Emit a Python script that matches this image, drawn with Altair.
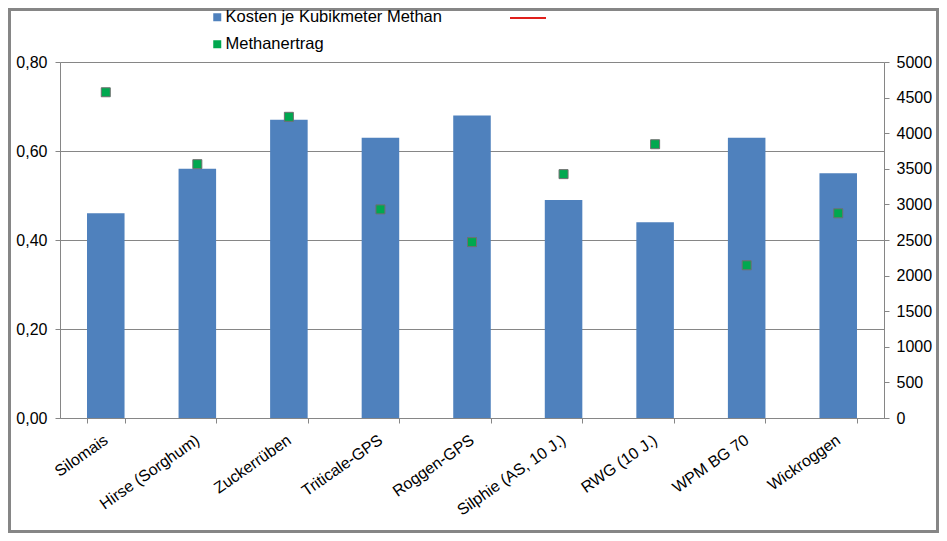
import altair as alt
import pandas as pd

categories = ["Silomais", "Hirse (Sorghum)", "Zuckerrüben", "Triticale-GPS", "Roggen-GPS",
              "Silphie (AS, 10 J.)", "RWG (10 J.)", "WPM BG 70", "Wickroggen"]
kosten = [0.46, 0.56, 0.67, 0.63, 0.68, 0.49, 0.44, 0.63, 0.55]
methanertrag = [4575, 3565, 4230, 2930, 2470, 3425, 3845, 2145, 2875]
bar_series = "Kosten je Kubikmeter Methan"
point_series = "Methanertrag"
line_series = " "
left_ticks = [0, 0.2, 0.4, 0.6, 0.8]
right_ticks = [0, 500, 1000, 1500, 2000, 2500, 3000, 3500, 4000, 4500, 5000]

GRAY = "#868686"
FONT = "Liberation Sans"

df = pd.DataFrame({
    "Kultur": categories,
    "Kosten": kosten,
    "Methanertrag": methanertrag,
    "bar_s": [bar_series] * len(categories),
    "pt_s": [point_series] * len(categories),
    "line_s": [line_series] * len(categories),
    "leer": [None] * len(categories),
})

x_enc = alt.X(
    "Kultur:N", sort=categories, title=None,
    scale=alt.Scale(paddingInner=0.59, paddingOuter=0.295),
    axis=alt.Axis(labelAngle=-35, labelAlign="right", labelBaseline="middle",
                  tickBand="extent", tickSize=5, tickColor=GRAY,
                  domainColor=GRAY, labelFontSize=16, labelColor="black",
                  labelPadding=15, grid=False, labelFont=FONT, labelLimit=300),
)

legend_common = dict(orient="none", title=None, padding=0, labelFontSize=16.5,
                     labelFont=FONT, labelColor="black", labelOffset=0, labelLimit=400)

bars = alt.Chart(df).mark_bar().encode(
    x=x_enc,
    y=alt.Y("Kosten:Q", title=None,
            scale=alt.Scale(domain=[0, 0.8], nice=False),
            axis=alt.Axis(values=left_ticks,
                          labelExpr="replace(format(datum.value, '.2f'), '.', ',')",
                          grid=True, gridColor=GRAY, gridWidth=1,
                          domainColor=GRAY, tickColor=GRAY, tickSize=5,
                          labelPadding=8, labelFontSize=16, labelColor="black",
                          labelFont=FONT)),
    color=alt.Color("bar_s:N",
                    scale=alt.Scale(domain=[bar_series], range=["#4F81BD"]),
                    legend=alt.Legend(legendX=149, legendY=-53, symbolType="square",
                                      symbolSize=64, symbolStrokeWidth=0, **legend_common)),
)

points = alt.Chart(df).mark_point(shape="square", filled=True, size=81,
                                  stroke="#6f6f6f", strokeWidth=1, opacity=1).encode(
    x=x_enc,
    y=alt.Y("Methanertrag:Q", title=None,
            scale=alt.Scale(domain=[0, 5000], nice=False),
            axis=alt.Axis(orient="right", values=right_ticks, format="d", grid=False,
                          domainColor=GRAY, tickColor=GRAY, tickSize=5,
                          labelPadding=7, labelFontSize=16, labelColor="black",
                          labelFont=FONT)),
    fill=alt.Fill("pt_s:N",
                  scale=alt.Scale(domain=[point_series], range=["#00A84F"]),
                  legend=alt.Legend(legendX=149, legendY=-26, symbolType="square",
                                    symbolSize=64, symbolStrokeWidth=0,
                                    symbolFillColor="#2E9E48", **legend_common)),
)

line = alt.Chart(df).mark_line(strokeWidth=2).encode(
    x=x_enc,
    y=alt.Y("leer:Q", title=None, scale=alt.Scale(domain=[0, 1]), axis=None),
    stroke=alt.Stroke("line_s:N",
                      scale=alt.Scale(domain=[line_series], range=["#E0201C"]),
                      legend=alt.Legend(legendX=449, legendY=-63, symbolType="stroke",
                                        symbolSize=1296, symbolStrokeWidth=2,
                                        **legend_common)),
)

frame = alt.Chart(pd.DataFrame({"f": [0]})).mark_rect(
    fill="transparent", stroke=GRAY, strokeWidth=3
).encode(
    x=alt.value(-50.5), x2=alt.value(877.5), y=alt.value(-52.5), y2=alt.value(469.5)
)

chart = alt.layer(bars, points, line, frame).resolve_scale(
    y="independent"
).properties(
    width=824, height=356,
    padding={"left": 52, "top": 54, "right": 55, "bottom": 115},
    autosize=alt.AutoSizeParams(type="none"),
    background="white",
).configure_view(stroke=None).configure(font=FONT)

chart.save("out.html", embed_options={"renderer": "svg", "actions": False})
